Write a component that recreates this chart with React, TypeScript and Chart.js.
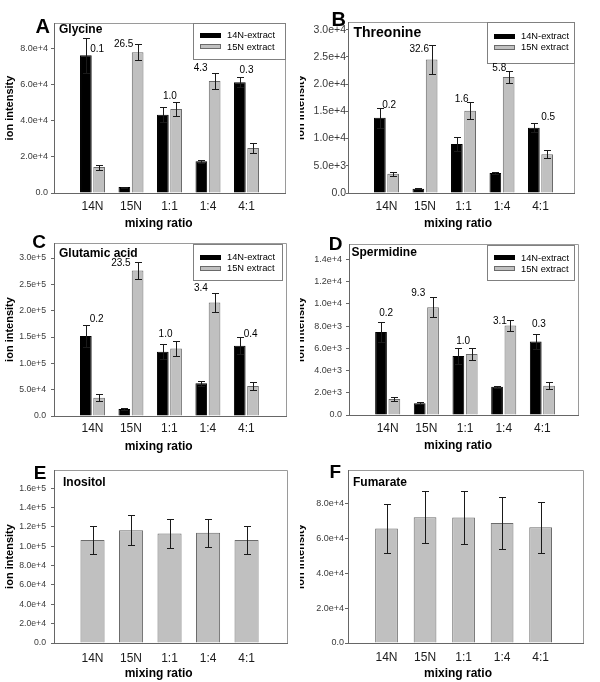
import React, { useEffect, useRef } from 'react';
import { Chart, registerables } from 'chart.js';

Chart.register(...registerables);

const FONT = "'Liberation Sans', Arial, Helvetica, sans-serif";

// ---------- data ----------
const categories = ['14N', '15N', '1:1', '1:4', '4:1'];
const seriesNames = ['14N-extract', '15N extract'];
const xTitle = 'mixing ratio';
const yTitle = 'ion intensity';

// A Glycine
const glycine14N = [76500, 3300, 43500, 17600, 61500];
const glycine14NErr = [9600, 300, 4300, 900, 2800];
const glycine15N = [14400, 78100, 46700, 62200, 25000];
const glycine15NErr = [1400, 4400, 3900, 4200, 2800];
const glycineRatio = ['0.1', '26.5', '1.0', '4.3', '0.3'];
const glycineRatioY = [79900, 82800, 53900, 69400, 68100];
const glycineRatioDx = [0.12, -0.19, 0.01, -0.19, 0];
const glycineTicks = [0, 20000, 40000, 60000, 80000];

// B Threonine
const threonine14N = [13800, 790, 9000, 3660, 12000];
const threonine14NErr = [1900, 60, 1200, 180, 800];
const threonine15N = [3540, 24500, 15100, 21300, 7130];
const threonine15NErr = [330, 2700, 1550, 1150, 750];
const threonineRatio = ['0.2', '32.6', '1.6', '5.8', '0.5'];
const threonineRatioY = [16060, 26350, 17280, 22900, 14000];
const threonineRatioDx = [0.07, -0.15, -0.05, -0.07, 0.2];
const threonineTicks = [0, 5000, 10000, 15000, 20000, 25000, 30000];

// C Glutamic acid
const glutamic14N = [151800, 13300, 122000, 62300, 133400];
const glutamic14NErr = [21000, 1300, 14000, 5000, 15900];
const glutamic15N = [34900, 276400, 128300, 215400, 57200];
const glutamic15NErr = [6000, 15500, 14000, 18500, 7600];
const glutamicRatio = ['0.2', '23.5', '1.0', '3.4', '0.4'];
const glutamicRatioY = [183900, 290500, 154400, 242800, 154400];
const glutamicRatioDx = [0.11, -0.26, -0.1, -0.18, 0.11];
const glutamicTicks = [0, 50000, 100000, 150000, 200000, 250000, 300000];

// D Spermidine
const spermidine14N = [7470, 1050, 5310, 2550, 6600];
const spermidine14NErr = [930, 90, 690, 90, 660];
const spermidine15N = [1440, 9690, 5490, 8040, 2640];
const spermidine15NErr = [190, 900, 560, 460, 300];
const spermidineRatio = ['0.2', '9.3', '1.0', '3.1', '0.3'];
const spermidineRatioY = [9140, 10940, 6620, 8450, 8150];
const spermidineRatioDx = [-0.04, -0.21, -0.05, -0.1, -0.09];
const spermidineTicks = [0, 2000, 4000, 6000, 8000, 10000, 12000, 14000];

// E Inositol
const inositol = [106400, 116700, 113300, 113900, 106400];
const inositolErr = [14300, 15300, 15000, 14800, 14300];
const inositolTicks = [0, 20000, 40000, 60000, 80000, 100000, 120000, 140000, 160000];

// F Fumarate
const fumarate = [65500, 72000, 71800, 68600, 66300];
const fumarateErr = [14100, 15000, 15000, 14800, 14600];
const fumarateTicks = [0, 20000, 40000, 60000, 80000];

// ---------- styles ----------
const BLACK = '#000000';
const GREY = '#c0c0c0';
const GREY_EDGE = '#6a6a6a';
const AXIS = '#666666';
const FRAME = '#9a9a9a';
const ERR = '#1a1a1a';

type Series = { label: string; values: number[]; errors: number[]; fill: string; stroke: string };
type Legend = { left: number; top: number; w: number; h: number; rows: [number, number] };
type Panel = {
  letter: string;
  name: string;
  nameSize: number;
  letterSize: number;
  series: Series[];
  ratio?: string[];
  ratioY?: number[];
  ratioDx?: number[];
  yTicks: number[];
  yMax: number;
  xMax: number;
  box: [number, number, number, number];
  col: 0 | 1;
  letterAt: [number, number];
  nameAt: [number, number];
  legend?: Legend;
  yTickSize: number;
  yTickPad: number;
  yTickLen: number;
  xTickPad: number;
  catPct: number;
  barPct: number;
};

const pair = (a: number[], ae: number[], b: number[], be: number[]): Series[] => [
  { label: seriesNames[0], values: a, errors: ae, fill: BLACK, stroke: BLACK },
  { label: seriesNames[1], values: b, errors: be, fill: GREY, stroke: GREY_EDGE },
];

const panels: Panel[] = [
  {
    letter: 'A', name: 'Glycine', nameSize: 12, letterSize: 20,
    series: pair(glycine14N, glycine14NErr, glycine15N, glycine15NErr),
    ratio: glycineRatio, ratioY: glycineRatioY, ratioDx: glycineRatioDx,
    yTicks: glycineTicks, yMax: 94400, xMax: 6.0,
    box: [54, 23, 285, 193], col: 0,
    letterAt: [35.5, 33.3], nameAt: [59, 33.3],
    legend: { left: 193, top: 23, w: 92, h: 36, rows: [12, 23.5] },
    yTickSize: 9, yTickPad: 3, yTickLen: 3, xTickPad: 6.8, catPct: 0.69, barPct: 0.88,
  },
  {
    letter: 'B', name: 'Threonine', nameSize: 14, letterSize: 20,
    series: pair(threonine14N, threonine14NErr, threonine15N, threonine15NErr),
    ratio: threonineRatio, ratioY: threonineRatioY, ratioDx: threonineRatioDx,
    yTicks: threonineTicks, yMax: 31400, xMax: 5.87,
    box: [348, 22, 574, 193], col: 1,
    letterAt: [331.5, 26], nameAt: [353.5, 36.7],
    legend: { left: 487, top: 22, w: 87, h: 41, rows: [14, 25] },
    yTickSize: 10.5, yTickPad: 0, yTickLen: 2, xTickPad: 6.5, catPct: 0.69, barPct: 0.88,
  },
  {
    letter: 'C', name: 'Glutamic acid', nameSize: 12, letterSize: 19,
    series: pair(glutamic14N, glutamic14NErr, glutamic15N, glutamic15NErr),
    ratio: glutamicRatio, ratioY: glutamicRatioY, ratioDx: glutamicRatioDx,
    yTicks: glutamicTicks, yMax: 328600, xMax: 6.03,
    box: [54, 243, 286, 416], col: 0,
    letterAt: [32.3, 247.7], nameAt: [59, 256.7],
    legend: { left: 193, top: 244, w: 89, h: 36, rows: [13, 24] },
    yTickSize: 8.7, yTickPad: 5, yTickLen: 3, xTickPad: 5.8, catPct: 0.69, barPct: 0.88,
  },
  {
    letter: 'D', name: 'Spermidine', nameSize: 12, letterSize: 19,
    series: pair(spermidine14N, spermidine14NErr, spermidine15N, spermidine15NErr),
    ratio: spermidineRatio, ratioY: spermidineRatioY, ratioDx: spermidineRatioDx,
    yTicks: spermidineTicks, yMax: 15380, xMax: 5.92,
    box: [349, 244, 578, 415], col: 1,
    letterAt: [328.7, 250], nameAt: [351.5, 255.7],
    legend: { left: 487, top: 245, w: 87, h: 35, rows: [12.5, 23.5] },
    yTickSize: 9, yTickPad: 4, yTickLen: 3, xTickPad: 6.8, catPct: 0.69, barPct: 0.88,
  },
  {
    letter: 'E', name: 'Inositol', nameSize: 12, letterSize: 19,
    series: [{ label: 'Inositol', values: inositol, errors: inositolErr, fill: GREY, stroke: GREY_EDGE }],
    yTicks: inositolTicks, yMax: 178900, xMax: 6.05,
    box: [54, 470, 287, 643], col: 0,
    letterAt: [33.8, 479.3], nameAt: [63, 485.7],
    yTickSize: 8.7, yTickPad: 5, yTickLen: 3, xTickPad: 8.8, catPct: 0.625, barPct: 1,
  },
  {
    letter: 'F', name: 'Fumarate', nameSize: 12, letterSize: 19,
    series: [{ label: 'Fumarate', values: fumarate, errors: fumarateErr, fill: GREY, stroke: GREY_EDGE }],
    yTicks: fumarateTicks, yMax: 99000, xMax: 6.1,
    box: [348, 470, 583, 643], col: 1,
    letterAt: [329.5, 478.3], nameAt: [353, 485.7],
    yTickSize: 9, yTickPad: 1, yTickLen: 3, xTickPad: 7.8, catPct: 0.59, barPct: 1,
  },
];

function PanelChart({ p }: { p: Panel }) {
  const ref = useRef<HTMLCanvasElement | null>(null);
  const ox = p.col === 0 ? 0 : 290;
  const oy = p.box[1] - 24;
  const cW = p.box[2] - ox + 17;
  const cH = p.box[3] - oy + 42;

  useEffect(() => {
    const [L, , , B] = p.box;
    const decor = {
      id: 'decor' + p.letter,
      afterDatasetsDraw(chart: any) {
        const ctx = chart.ctx as CanvasRenderingContext2D;
        const ys = chart.scales.y;
        ctx.save();
        ctx.strokeStyle = ERR;
        ctx.lineWidth = 1;
        p.series.forEach((s, di) => {
          const meta = chart.getDatasetMeta(di);
          meta.data.forEach((el: any, i: number) => {
            const v = s.values[i];
            const e = s.errors[i];
            const cx = Math.round(el.x);
            const x = cx + 0.5;
            const y1 = Math.round(ys.getPixelForValue(v + e)) + 0.5;
            const y2 = Math.round(ys.getPixelForValue(Math.max(0, v - e))) + 0.5;
            ctx.beginPath();
            ctx.moveTo(x, y1);
            ctx.lineTo(x, y2);
            ctx.moveTo(cx - 3, y1);
            ctx.lineTo(cx + 4, y1);
            ctx.moveTo(cx - 3, y2);
            ctx.lineTo(cx + 4, y2);
            ctx.stroke();
          });
        });
        ctx.restore();
      },
      afterDraw(chart: any) {
        const ctx = chart.ctx as CanvasRenderingContext2D;
        const ca = chart.chartArea;
        const xs = chart.scales.x;
        const ys = chart.scales.y;
        ctx.save();
        // frame top & right
        ctx.strokeStyle = FRAME;
        ctx.lineWidth = 1;
        ctx.beginPath();
        ctx.moveTo(ca.left + 1, ca.top + 0.5);
        ctx.lineTo(ca.right + 0.5, ca.top + 0.5);
        ctx.lineTo(ca.right + 0.5, ca.bottom);
        ctx.stroke();

        // legend
        if (p.legend) {
          const lg = p.legend;
          const bx = lg.left - ox;
          const by = lg.top - oy;
          ctx.fillStyle = '#ffffff';
          ctx.fillRect(bx, by, lg.w, lg.h);
          ctx.strokeStyle = '#808080';
          ctx.strokeRect(bx + 0.5, by + 0.5, lg.w, lg.h);
          p.series.forEach((s, i) => {
            const cy = by + lg.rows[i];
            ctx.fillStyle = s.fill;
            ctx.fillRect(bx + 7, Math.round(cy - 2.5), 21, 5);
            if (s.fill !== s.stroke) {
              ctx.strokeStyle = s.stroke;
              ctx.strokeRect(bx + 7.5, Math.round(cy - 2.5) + 0.5, 20, 4);
            }
            ctx.fillStyle = '#000';
            ctx.font = `9.3px ${FONT}`;
            ctx.textAlign = 'left';
            ctx.textBaseline = 'middle';
            ctx.fillText(s.label, bx + 34, cy + 0.5);
          });
        }

        // letter & name
        ctx.fillStyle = '#000';
        ctx.textAlign = 'left';
        ctx.textBaseline = 'alphabetic';
        ctx.font = `bold ${p.letterSize}px ${FONT}`;
        ctx.fillText(p.letter, p.letterAt[0] - ox, p.letterAt[1] - oy);
        ctx.font = `bold ${p.nameSize}px ${FONT}`;
        ctx.fillText(p.name, p.nameAt[0] - ox, p.nameAt[1] - oy);

        // ratio labels
        if (p.ratio && p.ratioY && p.ratioDx) {
          ctx.font = `10px ${FONT}`;
          ctx.textAlign = 'center';
          ctx.textBaseline = 'middle';
          p.ratio.forEach((t, i) => {
            const x = xs.getPixelForValue(i + 1 + p.ratioDx![i]);
            const y = ys.getPixelForValue(p.ratioY![i]);
            ctx.fillText(t, x, y);
          });
        }

        // x title
        ctx.font = `bold 12px ${FONT}`;
        ctx.textAlign = 'center';
        ctx.textBaseline = 'middle';
        const tx = (p.col === 0 ? 158.7 : 458) - ox;
        ctx.fillText(xTitle, tx, B - oy + 30.5);
        ctx.restore();
      },
    };

    const yWidth = L - ox;
    const chart = new Chart(ref.current as HTMLCanvasElement, {
      type: 'bar',
      data: {
        datasets: p.series.map((s) => ({
          label: s.label,
          data: s.values.map((v, i) => ({ x: i + 1, y: v })),
          backgroundColor: s.fill,
          borderColor: s.stroke,
          borderWidth: 1,
          categoryPercentage: p.catPct,
          barPercentage: p.barPct,
        })),
      },
      options: {
        responsive: false,
        animation: false,
        devicePixelRatio: 1,
        layout: { padding: { left: 0, top: 24, right: 17, bottom: 0 } },
        plugins: {
          legend: { display: false },
          tooltip: { enabled: false },
          title: { display: false },
        },
        scales: {
          x: {
            type: 'linear',
            min: 0,
            max: p.xMax,
            offset: false,
            afterBuildTicks: (s: any) => {
              s.ticks = categories.map((_, i) => ({ value: i + 1 }));
            },
            afterFit: (s: any) => {
              s.height = 42;
            },
            ticks: {
              autoSkip: false,
              maxRotation: 0,
              padding: p.xTickPad,
              color: '#1a1a1a',
              font: { family: FONT, size: 12 },
              callback: (v: any) => categories[Math.round(Number(v)) - 1] ?? '',
            },
            grid: { display: false, drawTicks: false, offset: false },
            border: { display: true, color: AXIS, width: 1 },
          },
          y: {
            type: 'linear',
            min: 0,
            max: p.yMax,
            afterBuildTicks: (s: any) => {
              s.ticks = p.yTicks.map((v) => ({ value: v }));
            },
            afterFit: (s: any) => {
              s.width = yWidth;
            },
            ticks: {
              padding: p.yTickPad,
              color: '#3a3a3a',
              font: { family: FONT, size: p.yTickSize },
              callback: (v: any) => (Number(v) === 0 ? '0.0' : Number(v).toExponential(1)),
            },
            grid: {
              display: true,
              drawOnChartArea: false,
              drawTicks: true,
              tickLength: p.yTickLen,
              color: AXIS,
            },
            border: { display: true, color: AXIS, width: 1 },
            title: {
              display: true,
              text: yTitle,
              color: '#000',
              font: { family: FONT, size: 11, weight: 'bold' },
              padding: { top: p.col === 0 ? 3 : 4.4, bottom: 0 },
            },
          },
        },
      },
      plugins: [decor],
    } as any);
    return () => chart.destroy();
  }, []);

  return (
    <canvas
      ref={ref}
      width={cW}
      height={cH}
      style={{ position: 'absolute', left: ox - (p.col === 0 ? 0 : 300), top: oy, width: cW, height: cH }}
    />
  );
}

export default function App() {
  return (
    <div style={{ position: 'absolute', left: 0, top: 0, width: 600, height: 682, background: '#fff', overflow: 'hidden' }}>
      {[0, 1].map((col) => (
        <div
          key={col}
          style={{ position: 'absolute', left: col * 300, top: 0, width: 300, height: 682, overflow: 'hidden' }}
        >
          {panels
            .filter((p) => p.col === col)
            .map((p) => (
              <PanelChart key={p.letter} p={p} />
            ))}
        </div>
      ))}
    </div>
  );
}
